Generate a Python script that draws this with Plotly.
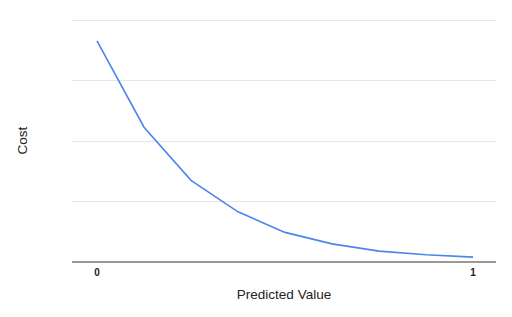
import plotly.graph_objects as go

predicted = [0, 0.125, 0.25, 0.375, 0.5, 0.625, 0.75, 0.875, 1.0]
cost = [3.66, 2.23, 1.35, 0.83, 0.49, 0.30, 0.18, 0.12, 0.08]
x_ticks = [0, 1]
x_tick_labels = ["<b>0</b>", "<b>1</b>"]

fig = go.Figure()
fig.add_trace(go.Scatter(x=predicted, y=cost, mode="lines",
                         line=dict(color="#4a86e8", width=1.6),
                         showlegend=False, hoverinfo="skip"))

fig.update_layout(
    width=512, height=317,
    margin=dict(l=72, r=16, t=19, b=55),
    paper_bgcolor="white", plot_bgcolor="white",
    font=dict(family="Liberation Sans, Arial, sans-serif", color="#222222", size=13),
    xaxis=dict(range=[-0.0665, 1.061], tickvals=x_ticks, ticktext=x_tick_labels,
               showgrid=False, zeroline=False, showline=False,
               tickfont=dict(size=10, color="#222222"), ticks="",
               ticklabelstandoff=3,
               title=dict(text="Predicted Value", font=dict(size=13.5), standoff=12)),
    yaxis=dict(range=[0, 4.02], tickvals=[1, 2, 3, 4], showticklabels=False, ticks="",
               showgrid=True, gridcolor="#e6e6e6", gridwidth=1,
               zeroline=True, zerolinecolor="#999999", zerolinewidth=2,
               showline=False,
               title=dict(text="Cost", font=dict(size=13.5), standoff=40)),
)

fig.write_html("out.html")
